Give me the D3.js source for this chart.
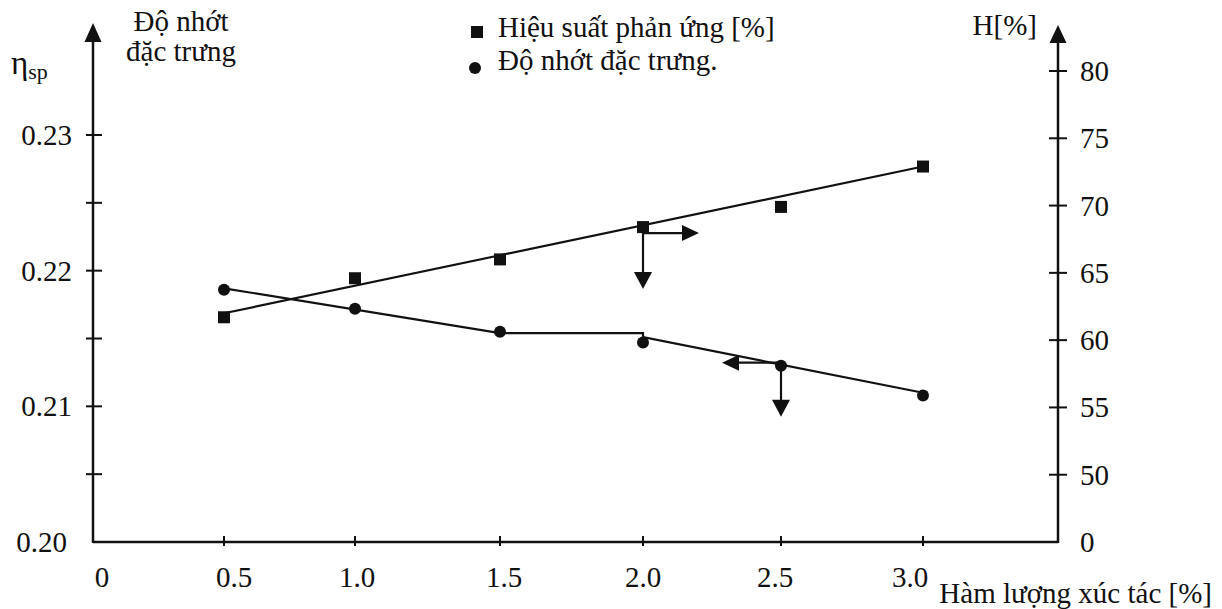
<!DOCTYPE html>
<html>
<head>
<meta charset="utf-8">
<script src="https://cdn.jsdelivr.net/npm/d3@7"></script>
<style>
  html, body { margin: 0; padding: 0; background: #fff; }
  svg text { font-family: "Liberation Serif", "DejaVu Serif", serif; fill: #111; }
</style>
</head>
<body>
<svg id="chart" width="1222" height="609"></svg>
<script>
// ---- data ----
const catalyst = [0.5, 1.0, 1.5, 2.0, 2.5, 3.0];               // Hàm lượng xúc tác [%]
const yieldH = [61.7, 64.6, 66.0, 68.4, 69.9, 72.9];            // Hiệu suất phản ứng [%]
const viscosity = [0.2186, 0.2172, 0.2155, 0.2147, 0.2130, 0.2108]; // Độ nhớt đặc trưng
const yieldFitX = [0.5, 3.0];
const yieldFit = [62.0, 72.9];
const viscFitX = [0.5, 1.5, 2.0, 2.0, 3.0];
const viscFit = [0.2187, 0.2154, 0.2154, 0.2151, 0.2110];
const xTicks = [0, 0.5, 1.0, 1.5, 2.0, 2.5, 3.0];
const xTickLabels = ["0", "0.5", "1.0", "1.5", "2.0", "2.5", "3.0"];
const leftTicks = [0.205, 0.21, 0.215, 0.22, 0.225, 0.23];
const leftLabelTicks = [0.20, 0.21, 0.22, 0.23];
const leftTickLabels = ["0.20", "0.21", "0.22", "0.23"];
const rightTicks = [50, 55, 60, 65, 70, 75, 80];
const rightLabelTicks = [45, 50, 55, 60, 65, 70, 75, 80];
const rightTickLabels = ["0", "50", "55", "60", "65", "70", "75", "80"];
const legendLabels = ["Hiệu suất phản ứng [%]", "Độ nhớt đặc trưng."];

// ---- layout ----
const svg = d3.select("#chart");
const X0 = 93, X1 = 1058, Y0 = 542;
const x = d3.scaleLinear()
  .domain([0, 0.5, 1.0, 1.5, 2.0, 2.5, 3.0, 3.48])
  .range([X0, 224, 355, 500, 643, 781, 923, X1]);
const yL = d3.scaleLinear().domain([0.20, 0.23]).range([Y0, 135]);
const yR = d3.scaleLinear().domain([45, 80]).range([Y0, 71]);
const ink = "#111";
const xLabelShift = [9, 10, 2, 4, 0, -6, -13];   // hand-lettered label offsets (px)

function arrowHead(g, tx, ty, dir, len, half) {
  let pts;
  if (dir === "up") pts = [[tx, ty], [tx - half, ty + len], [tx + half, ty + len]];
  if (dir === "down") pts = [[tx, ty], [tx - half, ty - len], [tx + half, ty - len]];
  if (dir === "right") pts = [[tx, ty], [tx - len, ty - half], [tx - len, ty + half]];
  if (dir === "left") pts = [[tx, ty], [tx + len, ty - half], [tx + len, ty + half]];
  g.append("polygon").attr("points", pts.map(p => p.join(",")).join(" ")).attr("fill", ink);
}

const axes = svg.append("g").attr("stroke", ink).attr("stroke-width", 2.5).attr("fill", "none");
// left axis
axes.append("line").attr("x1", X0).attr("y1", Y0 + 1).attr("x2", X0).attr("y2", 36);
arrowHead(svg, X0, 23, "up", 19, 8.5);
// right axis
axes.append("line").attr("x1", X1).attr("y1", Y0 + 1).attr("x2", X1).attr("y2", 38);
arrowHead(svg, X1, 25, "up", 18, 8.5);
// x axis
axes.append("line").attr("x1", X0).attr("y1", Y0).attr("x2", X1).attr("y2", Y0);

// ticks
const tk = svg.append("g").attr("stroke", ink).attr("stroke-width", 2);
leftTicks.forEach(v => tk.append("line").attr("x1", X0 - 7).attr("x2", X0 + 9).attr("y1", yL(v)).attr("y2", yL(v)));
rightTicks.forEach(v => tk.append("line").attr("x1", X1 - 9).attr("x2", X1 + 9).attr("y1", yR(v)).attr("y2", yR(v)));
xTicks.slice(1).forEach(v => tk.append("line").attr("x1", x(v)).attr("x2", x(v)).attr("y1", Y0 - 6).attr("y2", Y0 + 4));

// tick labels
const FS = 29;
leftLabelTicks.forEach((v, i) => {
  svg.append("text").attr("x", v === 0.20 ? 67 : 72).attr("y", yL(v) + 10)
    .attr("text-anchor", "end").attr("font-size", FS).text(leftTickLabels[i]);
});
rightLabelTicks.forEach((v, i) => {
  svg.append("text").attr("x", 1080).attr("y", yR(v) + 10)
    .attr("font-size", FS).text(rightTickLabels[i]);
});
xTicks.forEach((v, i) => {
  svg.append("text").attr("x", x(v) + xLabelShift[i]).attr("y", 587)
    .attr("text-anchor", "middle").attr("font-size", FS).text(xTickLabels[i]);
});

// axis titles
const eta = svg.append("text").attr("x", 11).attr("y", 74).attr("font-size", 33);
eta.append("tspan").text("η");
eta.append("tspan").attr("font-size", 22).attr("dy", 5).text("sp");
svg.append("text").attr("x", 181).attr("y", 31).attr("text-anchor", "middle").attr("font-size", FS).text("Độ nhớt");
svg.append("text").attr("x", 181).attr("y", 61).attr("text-anchor", "middle").attr("font-size", FS).text("đặc trưng");
svg.append("text").attr("x", 1037).attr("y", 35).attr("text-anchor", "end").attr("font-size", FS).text("H[%]");
svg.append("text").attr("x", 1212).attr("y", 603).attr("text-anchor", "end").attr("font-size", FS).text("Hàm lượng xúc tác [%]");

// legend
svg.append("rect").attr("x", 471).attr("y", 26).attr("width", 12).attr("height", 12).attr("fill", ink);
svg.append("text").attr("x", 498).attr("y", 37).attr("font-size", FS).text(legendLabels[0]);
svg.append("circle").attr("cx", 475).attr("cy", 68).attr("r", 6).attr("fill", ink);
svg.append("text").attr("x", 498).attr("y", 70).attr("font-size", FS).text(legendLabels[1]);

// fit lines
const lineH = d3.line().x((d, i) => x(yieldFitX[i])).y(d => yR(d));
svg.append("path").attr("d", lineH(yieldFit)).attr("fill", "none").attr("stroke", ink).attr("stroke-width", 2.2);
const lineV = d3.line().x((d, i) => x(viscFitX[i])).y(d => yL(d));
svg.append("path").attr("d", lineV(viscFit)).attr("fill", "none").attr("stroke", ink).attr("stroke-width", 2.2);

// markers
catalyst.forEach((c, i) => {
  svg.append("rect").attr("x", x(c) - 6).attr("y", yR(yieldH[i]) - 6).attr("width", 12).attr("height", 12).attr("fill", ink);
  svg.append("circle").attr("cx", x(c)).attr("cy", yL(viscosity[i])).attr("r", 6).attr("fill", ink);
});

// reading arrows
const ar = svg.append("g").attr("stroke", ink).attr("stroke-width", 2.2);
const sx = x(catalyst[3]), sy = yR(yieldH[3]) + 6;
ar.append("line").attr("x1", sx).attr("y1", sy).attr("x2", sx + 42).attr("y2", sy);
arrowHead(svg, sx + 56, sy, "right", 17, 8);
ar.append("line").attr("x1", sx).attr("y1", sy).attr("x2", sx).attr("y2", sy + 42);
arrowHead(svg, sx, sy + 56, "down", 17, 9);
const cx = x(catalyst[4]), cy = yL(viscosity[4]) - 3;
ar.append("line").attr("x1", cx).attr("y1", cy).attr("x2", cx - 45).attr("y2", cy);
arrowHead(svg, cx - 59, cy, "left", 17, 8);
ar.append("line").attr("x1", cx).attr("y1", cy).attr("x2", cx).attr("y2", cy + 40);
arrowHead(svg, cx, cy + 54, "down", 17, 9);
</script>
</body>
</html>
